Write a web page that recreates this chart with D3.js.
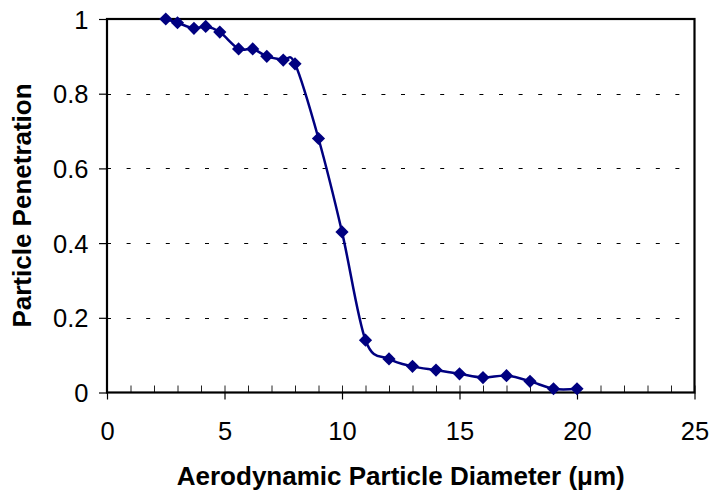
<!DOCTYPE html>
<html>
<head>
<meta charset="utf-8">
<script src="https://cdn.jsdelivr.net/npm/d3@7"></script>
<style>
  html, body { margin: 0; padding: 0; background: #fff; }
  svg { display: block; }
  text { font-family: "Liberation Sans", Arial, sans-serif; fill: #000; }
</style>
</head>
<body>
<svg id="chart" width="710" height="491"></svg>
<script>
// Aerodynamic particle diameter (µm) and measured penetration fraction
const diameters = [2.5, 3.0, 3.7, 4.2, 4.8, 5.6, 6.2, 6.8, 7.5, 8.0, 9, 10, 11, 12, 13, 14, 15, 16, 17, 18, 19, 20];
const penetration = [1.0, 0.99, 0.975, 0.98, 0.965, 0.92, 0.92, 0.90, 0.89, 0.88, 0.68, 0.43, 0.14, 0.09, 0.07, 0.06, 0.05, 0.04, 0.045, 0.03, 0.01, 0.01];

const xMajorTicks = [0, 5, 10, 15, 20, 25];
const xMinorTicks = d3.range(0, 26, 1);
const yTicks = [0, 0.2, 0.4, 0.6, 0.8, 1];
const yGridValues = [0.2, 0.4, 0.6, 0.8];

const xTitle = "Aerodynamic Particle Diameter (\u03bcm)";
const yTitle = "Particle Penetration";

const svg = d3.select("#chart");
const plot = { left: 107, right: 694.5, top: 19, bottom: 392.5 };

const x = d3.scaleLinear().domain([0, 25]).range([plot.left, plot.right]);
const y = d3.scaleLinear().domain([0, 1]).range([plot.bottom, plot.top]);

// dashed horizontal gridlines
svg.append("g")
  .selectAll("line")
  .data(yGridValues)
  .join("line")
  .attr("x1", plot.left)
  .attr("x2", plot.right)
  .attr("y1", d => Math.round(y(d)) + 0.5)
  .attr("y2", d => Math.round(y(d)) + 0.5)
  .attr("stroke", "#000")
  .attr("stroke-width", 1)
  .attr("stroke-dasharray", "4,15.6");

// minor x ticks pointing into the plot
const xMinor = svg.append("g")
  .attr("transform", `translate(0,${plot.bottom})`)
  .call(d3.axisTop(x).tickValues(xMinorTicks).tickSize(7).tickFormat(""));
xMinor.select(".domain").remove();
xMinor.selectAll("line").attr("stroke", "#222").attr("stroke-width", 1);

// major x ticks and labels
const xAxis = svg.append("g")
  .attr("transform", `translate(0,${plot.bottom})`)
  .call(d3.axisBottom(x).tickValues(xMajorTicks).tickSizeInner(7).tickSizeOuter(0).tickFormat(d3.format("d")));
xAxis.select(".domain").remove();
xAxis.selectAll("line").attr("stroke", "#000").attr("stroke-width", 1.2);
xAxis.selectAll("text")
  .attr("y", 47.5)
  .attr("dy", null)
  .style("font-size", "25.5px")
  .style("font-family", "'Liberation Sans', Arial, sans-serif");

// y ticks and labels
const yAxis = svg.append("g")
  .attr("transform", `translate(${plot.left},0)`)
  .call(d3.axisLeft(y).tickValues(yTicks).tickSizeInner(8).tickSizeOuter(0).tickPadding(10.5)
    .tickFormat(d => d3.format("~g")(d)));
yAxis.select(".domain").remove();
yAxis.selectAll("line").attr("stroke", "#000").attr("stroke-width", 1.2);
yAxis.selectAll("text")
  .attr("dy", "0.36em")
  .style("font-size", "25.5px")
  .style("font-family", "'Liberation Sans', Arial, sans-serif");

// plot frame
svg.append("rect")
  .attr("x", plot.left)
  .attr("y", plot.top)
  .attr("width", plot.right - plot.left)
  .attr("height", plot.bottom - plot.top)
  .attr("fill", "none")
  .attr("stroke", "#000")
  .attr("stroke-width", 2.2);

// smoothed penetration curve
const points = diameters.map((d, i) => [d, penetration[i]]);
const line = d3.line()
  .x(d => x(d[0]))
  .y(d => y(d[1]))
  .curve(d3.curveCardinal.tension(0));

svg.append("path")
  .datum(points)
  .attr("d", line)
  .attr("fill", "none")
  .attr("stroke", "#000080")
  .attr("stroke-width", 2.5);

// diamond markers
const diamond = "M0,-6.6L6.6,0L0,6.6L-6.6,0Z";
svg.append("g")
  .selectAll("path")
  .data(points)
  .join("path")
  .attr("d", diamond)
  .attr("transform", d => `translate(${x(d[0])},${y(d[1])})`)
  .attr("fill", "#000080");

// axis titles
svg.append("text")
  .attr("x", (plot.left + plot.right) / 2 + 0)
  .attr("y", 485)
  .attr("text-anchor", "middle")
  .style("font-size", "26px")
  .style("font-weight", "bold")
  .text(xTitle);

svg.append("text")
  .attr("transform", `translate(31,${205.5}) rotate(-90)`)
  .attr("text-anchor", "middle")
  .style("font-size", "26px")
  .style("font-weight", "bold")
  .text(yTitle);
</script>
</body>
</html>
